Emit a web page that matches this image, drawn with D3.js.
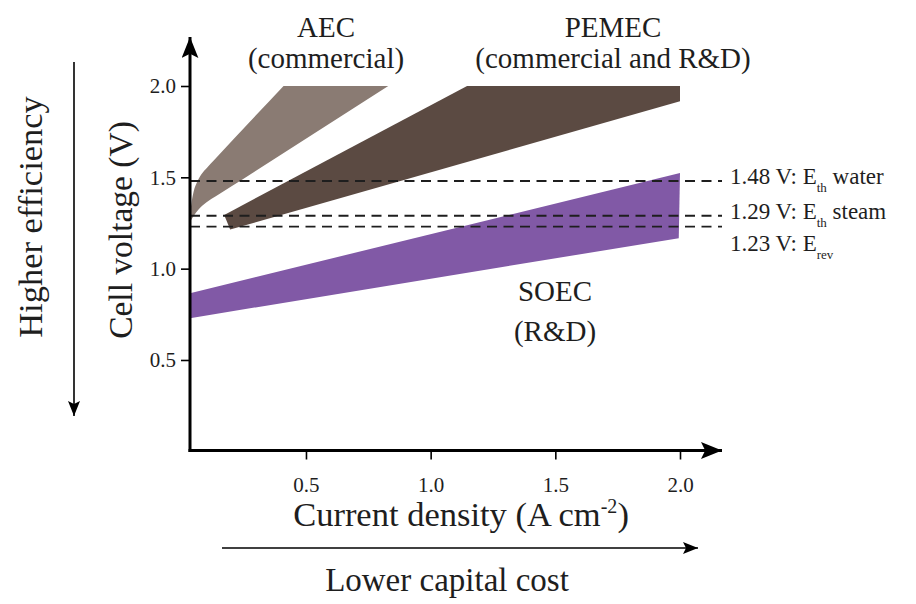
<!DOCTYPE html>
<html>
<head>
<meta charset="utf-8">
<script src="https://cdn.jsdelivr.net/npm/d3@7"></script>
<style>
  html, body { margin: 0; padding: 0; background: #fff; }
  svg text { font-family: "Liberation Serif", "Times New Roman", serif; fill: #1e1e1e; }
</style>
</head>
<body>
<svg id="chart" width="916" height="604"></svg>
<script>
// Electrolyser technologies: cell voltage vs current density bands
const techNames = ["AEC", "PEMEC", "SOEC"];
const techNotes = ["(commercial)", "(commercial and R&D)", "(R&D)"];
const techColors = ["#8a7b73", "#5b4a42", "#8159a6"];

// AEC band: upper and lower edges [current density, voltage]
const aecUpper = [[0.035, 1.30], [0.042, 1.37], [0.05, 1.425], [0.062, 1.47], [0.08, 1.515], [0.105, 1.555], [0.13, 1.592], [0.41, 2.0]];
const aecLower = [[0.035, 1.255], [0.05, 1.29], [0.07, 1.325], [0.1, 1.362], [0.14, 1.398], [0.2, 1.45], [0.83, 2.0]];
// PEMEC band outline
const pemecUpper = [[0.172, 1.294], [1.146, 2.0], [2.0, 2.0]];
const pemecLower = [[0.196, 1.214], [2.0, 1.917]];
// SOEC band outline
const soecUpper = [[0.035, 0.866], [2.0, 1.523]];
const soecLower = [[0.035, 0.729], [1.995, 1.167]];

// Reference voltages
const refVolts = [1.48, 1.29, 1.23];
const refNames = ["E", "E", "E"];
const refSubs = ["th", "th", "rev"];
const refSuffix = [" water", " steam", ""];

const xTicks = [0.5, 1.0, 1.5, 2.0];
const yTicks = [0.5, 1.0, 1.5, 2.0];

const svg = d3.select("#chart");
const x = d3.scaleLinear().domain([0, 2]).range([181.3, 680]);
const y = d3.scaleLinear().domain([0, 2]).range([451.3, 86]);
const axisX = 190;      // pixel position of the vertical axis
const axisY = 450.5;    // pixel position of the horizontal axis

// arrowheads
const defs = svg.append("defs");
function arrowMarker(id, w, h) {
  defs.append("marker").attr("id", id)
    .attr("viewBox", "0 0 20 16").attr("refX", 20).attr("refY", 8)
    .attr("markerWidth", w).attr("markerHeight", h)
    .attr("markerUnits", "userSpaceOnUse").attr("orient", "auto")
    .append("path").attr("d", "M0,0 L20,8 L0,16 L4,8 Z").attr("fill", "#000");
}
arrowMarker("bigArrow", 21, 17);
arrowMarker("thinArrow", 15, 12);

// band polygons
const edge = d3.line().x(d => x(d[0])).y(d => y(d[1]));
const edgeCurve = d3.line().x(d => x(d[0])).y(d => y(d[1])).curve(d3.curveMonotoneX);
function bandPath(upper, lower, gen) {
  const a = gen(upper);
  const b = gen(lower.slice().reverse()).replace(/^M/, "L");
  return a + b + "Z";
}
const bands = [
  { upper: aecUpper, lower: aecLower, gen: edgeCurve },
  { upper: pemecUpper, lower: pemecLower, gen: edge },
  { upper: soecUpper, lower: soecLower, gen: edge }
];
svg.append("g").selectAll("path").data(bands).join("path")
  .attr("d", d => bandPath(d.upper, d.lower, d.gen))
  .attr("fill", (d, i) => techColors[i]);

// dashed reference lines
svg.append("g").selectAll("line").data(refVolts).join("line")
  .attr("x1", axisX).attr("x2", 722)
  .attr("y1", d => y(d)).attr("y2", d => y(d))
  .attr("stroke", "#1e1e1e").attr("stroke-width", 1.9)
  .attr("stroke-dasharray", "10,6.5");

// reference labels
const refBase = [184, 219, 251];
const refLabels = svg.append("g").selectAll("text").data(refVolts).join("text")
  .attr("x", 730).attr("y", (d, i) => refBase[i])
  .attr("font-size", 23);
refLabels.append("tspan").text((d, i) => d.toFixed(2) + " V: " + refNames[i]);
refLabels.append("tspan").attr("font-size", 13).attr("dy", 8)
  .text((d, i) => refSubs[i]);
refLabels.append("tspan").attr("dy", -8).text((d, i) => refSuffix[i]);

// axes
const gx = svg.append("g").attr("transform", `translate(0,${axisY})`)
  .call(d3.axisBottom(x).tickValues(xTicks).tickSize(9).tickPadding(18).tickFormat(d3.format(".1f")));
const gy = svg.append("g").attr("transform", `translate(${axisX},0)`)
  .call(d3.axisLeft(y).tickValues(yTicks).tickSize(9).tickPadding(5).tickFormat(d3.format(".1f")));
[gx, gy].forEach(g => {
  g.select(".domain").remove();
  g.selectAll(".tick line").attr("stroke", "#000").attr("stroke-width", 1.6);
  g.selectAll(".tick text").attr("font-size", 21).attr("font-family", "Liberation Serif, serif").attr("fill", "#3a3a3a");
});

// axis lines with arrows
svg.append("line").attr("x1", axisX).attr("y1", axisY + 1.5).attr("x2", axisX).attr("y2", 37)
  .attr("stroke", "#000").attr("stroke-width", 3).attr("marker-end", "url(#bigArrow)");
svg.append("line").attr("x1", axisX - 1.5).attr("y1", axisY).attr("x2", 722).attr("y2", axisY)
  .attr("stroke", "#000").attr("stroke-width", 3).attr("marker-end", "url(#bigArrow)");

// band labels
const labelPos = [[326, 37, 68], [613, 37, 68], [555, 301, 341]];
techNames.forEach((name, i) => {
  const [cx, y1, y2] = labelPos[i];
  svg.append("text").attr("x", cx).attr("y", y1).attr("text-anchor", "middle")
    .attr("font-size", 29).text(name);
  svg.append("text").attr("x", cx).attr("y", y2).attr("text-anchor", "middle")
    .attr("font-size", 29).text(techNotes[i]);
});

// axis titles
const xTitle = svg.append("text").attr("x", 461).attr("y", 526)
  .attr("text-anchor", "middle").attr("font-size", 34.5);
xTitle.append("tspan").text("Current density (A cm");
xTitle.append("tspan").attr("font-size", 20).attr("dy", -13).text("-2");
xTitle.append("tspan").attr("dy", 13).text(")");

svg.append("text").attr("transform", "translate(132,230) rotate(-90)")
  .attr("text-anchor", "middle").attr("font-size", 33.5).text("Cell voltage (V)");

svg.append("text").attr("transform", "translate(42,217) rotate(-90)")
  .attr("text-anchor", "middle").attr("font-size", 34.5).text("Higher efficiency");

svg.append("text").attr("x", 447).attr("y", 591)
  .attr("text-anchor", "middle").attr("font-size", 33).text("Lower capital cost");

// direction arrows
svg.append("line").attr("x1", 74).attr("y1", 62).attr("x2", 74).attr("y2", 416)
  .attr("stroke", "#000").attr("stroke-width", 1.6).attr("marker-end", "url(#thinArrow)");
svg.append("line").attr("x1", 222).attr("y1", 548).attr("x2", 698).attr("y2", 548)
  .attr("stroke", "#000").attr("stroke-width", 1.6).attr("marker-end", "url(#thinArrow)");
</script>
</body>
</html>
